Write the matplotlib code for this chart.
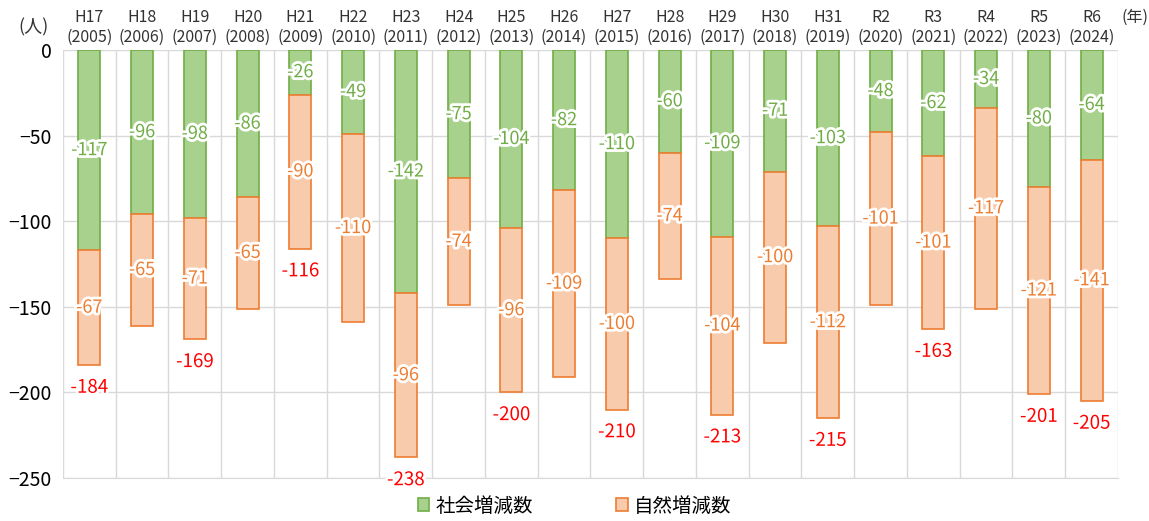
import matplotlib.pyplot as plt
import matplotlib.patheffects as pe
import numpy as np

plt.rcParams['font.family'] = ['Noto Sans CJK JP', 'DejaVu Sans']

eras = ['H17', 'H18', 'H19', 'H20', 'H21', 'H22', 'H23', 'H24', 'H25', 'H26',
        'H27', 'H28', 'H29', 'H30', 'H31', 'R2', 'R3', 'R4', 'R5', 'R6']
years = [2005, 2006, 2007, 2008, 2009, 2010, 2011, 2012, 2013, 2014,
         2015, 2016, 2017, 2018, 2019, 2020, 2021, 2022, 2023, 2024]
social = [-117, -96, -98, -86, -26, -49, -142, -75, -104, -82,
          -110, -60, -109, -71, -103, -48, -62, -34, -80, -64]
natural = [-67, -65, -71, -65, -90, -110, -96, -74, -96, -109,
           -100, -74, -104, -100, -112, -101, -101, -117, -121, -141]
# totals shown only for these years
total_years = ['H17', 'H19', 'H21', 'H23', 'H25', 'H27', 'H29', 'H31', 'R3', 'R5', 'R6']

green_fill, green_edge = '#A9D18E', '#70AD47'
orange_fill, orange_edge = '#F8CBAD', '#ED7D31'

fig = plt.figure(figsize=(11.49, 5.21), dpi=100)
ax = fig.add_axes([0.0548, 0.0825, 0.9182, 0.8215])

x = np.arange(len(eras))
w = 0.42
ax.bar(x, social, width=w, color=green_fill, edgecolor=green_edge, linewidth=1.2,
       label='社会増減数', zorder=3)
ax.bar(x, natural, width=w, bottom=social, color=orange_fill, edgecolor=orange_edge,
       linewidth=1.2, label='自然増減数', zorder=3)

halo = [pe.withStroke(linewidth=4, foreground='white')]
for i in range(len(eras)):
    s, n = social[i], natural[i]
    ax.text(x[i], s / 2, str(s), ha='center', va='center', fontsize=13,
            color=green_edge, path_effects=halo, zorder=5)
    ax.text(x[i], s + n / 2, str(n), ha='center', va='center', fontsize=13,
            color=orange_edge, path_effects=halo, zorder=5)
    if eras[i] in total_years:
        ax.annotate(str(s + n), (x[i], s + n), xytext=(0, -16), textcoords='offset points',
                    ha='center', va='center', fontsize=13.5, color='#FF0000',
                    path_effects=halo, zorder=5)

ax.set_xlim(-0.5, len(eras) - 0.5)
ax.set_ylim(-250, 0)
ax.set_yticks([0, -50, -100, -150, -200, -250])
ax.tick_params(axis='y', length=0, labelsize=14, pad=8)
ax.set_xticks([])
ax.grid(axis='y', color='#D9D9D9', linewidth=1, zorder=0)
for b in np.arange(-0.5, len(eras), 1.0):
    ax.axvline(b, color='#D9D9D9', linewidth=1, zorder=0)
for sp in ['top', 'right', 'left']:
    ax.spines[sp].set_visible(False)
ax.spines['bottom'].set_color('#D9D9D9')

for i in range(len(eras)):
    ax.text(x[i], 1.075, eras[i], transform=ax.get_xaxis_transform(), ha='center',
            va='center', fontsize=11.5, color='#333333')
    ax.text(x[i], 1.03, '(%d)' % years[i], transform=ax.get_xaxis_transform(), ha='center',
            va='center', fontsize=11.5, color='#333333')
fig.text(0.029, 0.948, '(人)', ha='center', va='center', fontsize=13, color='#333333')
fig.text(0.988, 0.966, '(年)', ha='center', va='center', fontsize=11.5, color='#333333')

fig.legend(loc='lower center', bbox_to_anchor=(0.5, -0.025), ncol=2, frameon=False,
           fontsize=14, handlelength=0.6, handleheight=0.6, columnspacing=4.3,
           handletextpad=0.3)

fig.savefig('out.png', dpi=100)
